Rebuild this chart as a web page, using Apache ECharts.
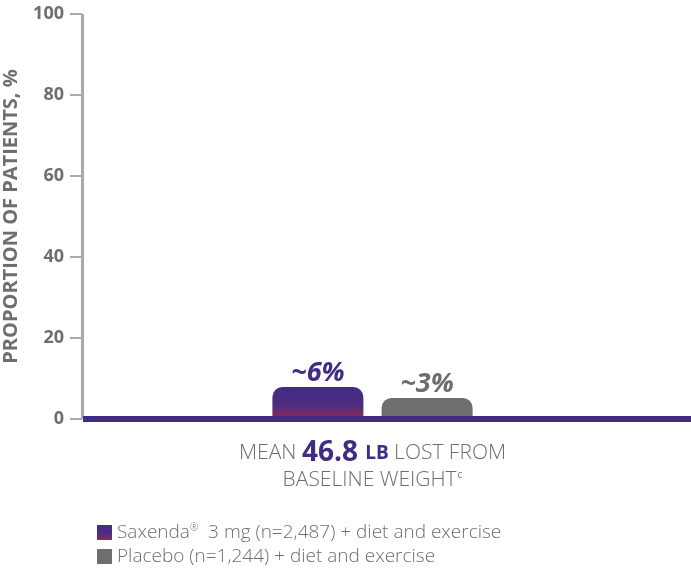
<!DOCTYPE html>
<html>
<head>
<meta charset="utf-8">
<script src="https://cdn.jsdelivr.net/npm/echarts@6/dist/echarts.min.js"></script>
<style>
  html, body { margin: 0; padding: 0; background: #fff; }
  #chart { width: 691px; height: 571px; }
</style>
</head>
<body>
<div id="chart"></div>
<script>
const categories = ['MEAN 46.8 LB LOST FROM BASELINE WEIGHT'];
const saxendaValues = [7.9];
const placeboValues = [5.2];
const saxendaLabels = ['~6%'];
const placeboLabels = ['~3%'];
const seriesNames = ['Saxenda® 3 mg (n=2,487) + diet and exercise', 'Placebo (n=1,244) + diet and exercise'];
const yTicks = [0, 20, 40, 60, 80, 100];

const PURPLE = '#412c85';
const GRAY = '#6d6e70';
const AXIS_GRAY = '#a7a9ac';
const FONT = '"Open Sans", sans-serif';

const saxendaFill = new echarts.graphic.LinearGradient(0, 0, 0, 1, [
  { offset: 0, color: '#432c87' },
  { offset: 0.55, color: '#4a2c80' },
  { offset: 1, color: '#8e2b55' }
]);

const legendText = {
  fontFamily: FONT, fontSize: 19, fontWeight: 300, color: GRAY,
  rich: { sup: { fontFamily: FONT, fontSize: 10, color: GRAY, padding: [0, 0, 9, 0] } }
};
function legendAt(name, top) {
  return {
    left: 97, top,
    padding: 0,
    itemWidth: 15, itemHeight: 15,
    icon: 'rect',
    data: [name],
    formatter: n => n.replace('®', '{sup|®} '),
    textStyle: legendText
  };
}

const chart = echarts.init(document.getElementById('chart'));
chart.setOption({
  animation: false,
  backgroundColor: '#fff',
  grid: [
    { left: 82, right: 28, top: 14, bottom: 152, outerBoundsMode: 'none', containLabel: false },
    // only carries the long purple baseline
    { left: 83, right: 0, top: 14, bottom: 152, outerBoundsMode: 'none', containLabel: false }
  ],
  legend: [legendAt(seriesNames[0], 523), legendAt(seriesNames[1], 547)],
  xAxis: [{
    type: 'category',
    gridIndex: 0,
    data: categories,
    axisLine: { show: false },
    axisTick: { show: false },
    axisLabel: {
      margin: 21,
      formatter: () => '{l|MEAN }{b|46.8 }{s|LB}{l| LOST FROM}\n{l|BASELINE WEIGHT}{sup|c}',
      rich: {
        l: { fontFamily: FONT, fontSize: 21, fontWeight: 300, color: GRAY, lineHeight: 27 },
        b: { fontFamily: FONT, fontSize: 28, fontWeight: 'bold', color: PURPLE, lineHeight: 27 },
        s: { fontFamily: FONT, fontSize: 19, fontWeight: 'bold', color: PURPLE, lineHeight: 27 },
        sup: { fontFamily: FONT, fontSize: 10, color: GRAY, padding: [0, 0, 11, 1] }
      }
    }
  }, {
    type: 'category',
    gridIndex: 1,
    data: [''],
    z: 5,
    axisLine: { lineStyle: { color: PURPLE, width: 6, cap: 'butt' } },
    axisTick: { show: false },
    axisLabel: { show: false }
  }],
  yAxis: [{
    type: 'value',
    gridIndex: 0,
    min: yTicks[0], max: yTicks[yTicks.length - 1], interval: 20,
    name: 'PROPORTION OF PATIENTS, %',
    nameLocation: 'middle',
    nameGap: 61,
    nameTextStyle: { fontFamily: FONT, fontSize: 20, fontWeight: 'bold', color: GRAY },
    axisLine: { show: true, lineStyle: { color: AXIS_GRAY, width: 3, cap: 'butt' } },
    axisTick: { show: true, length: 12, lineStyle: { color: AXIS_GRAY, width: 2 } },
    axisLabel: { fontFamily: FONT, fontSize: 18, fontWeight: 'bold', color: GRAY, margin: 18 },
    splitLine: { show: false }
  }, {
    type: 'value', gridIndex: 1, min: 0, max: 100, show: false
  }],
  series: [{
    name: seriesNames[0],
    type: 'bar',
    data: saxendaValues,
    barWidth: 91,
    barGap: '20%',
    itemStyle: { color: saxendaFill, borderRadius: [10, 10, 0, 0] },
    label: {
      show: true, position: 'top', distance: 0,
      formatter: p => saxendaLabels[p.dataIndex],
      fontFamily: FONT, fontSize: 27, fontWeight: 'bold', fontStyle: 'italic', color: PURPLE
    }
  }, {
    name: seriesNames[1],
    type: 'bar',
    data: placeboValues,
    barWidth: 91,
    itemStyle: { color: GRAY, borderRadius: [10, 10, 0, 0] },
    label: {
      show: true, position: 'top', distance: 0,
      formatter: p => placeboLabels[p.dataIndex],
      fontFamily: FONT, fontSize: 27, fontWeight: 'bold', fontStyle: 'italic', color: GRAY
    }
  }]
});
</script>
</body>
</html>
